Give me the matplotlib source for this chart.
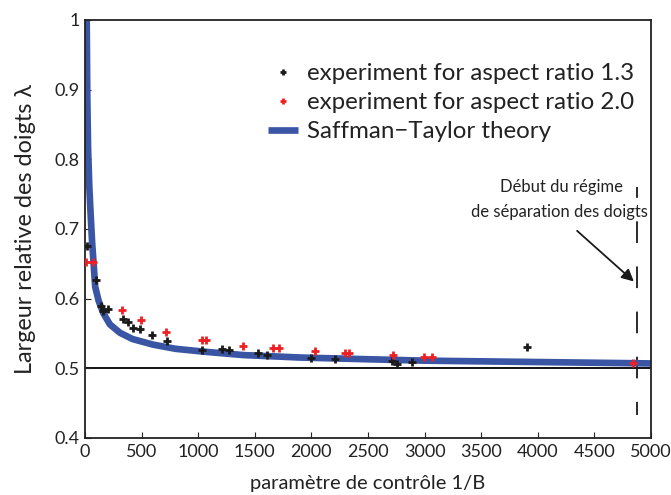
import numpy as np
import matplotlib
matplotlib.use("Agg")
import matplotlib.pyplot as plt

plt.rcParams['font.family'] = ['Lato', 'DejaVu Sans']

# theory curve
theory_x = [15, 20, 27, 38, 50, 63, 77, 90, 120, 162, 220, 309, 420, 601, 800,
            1042, 1400, 1899, 2500, 3000, 3500, 4000, 4500, 5000]
theory_y = [1.0, 0.89, 0.816, 0.76, 0.72, 0.68, 0.648, 0.617, 0.597, 0.579,
            0.563, 0.551, 0.542, 0.534, 0.528, 0.524, 0.519, 0.5155, 0.513,
            0.511, 0.510, 0.509, 0.508, 0.507]

# aspect ratio 1.3 (black)
ar13_x = [20, 95, 139, 162, 206, 333, 377, 422, 486, 589, 722, 1036, 1208,
          1272, 1526, 1610, 1994, 2208, 2715, 2759, 2886, 3902]
ar13_y = [0.676, 0.627, 0.590, 0.582, 0.585, 0.571, 0.566, 0.558, 0.557,
          0.548, 0.539, 0.526, 0.528, 0.527, 0.522, 0.519, 0.515, 0.513,
          0.511, 0.506, 0.509, 0.530]

# aspect ratio 2.0 (red)
ar20_x = [5, 73, 324, 495, 713, 1036, 1069, 1398, 1658, 1714, 2032, 2297,
          2332, 2718, 2995, 3063, 4844]
ar20_y = [0.653, 0.653, 0.583, 0.570, 0.552, 0.541, 0.541, 0.532, 0.529,
          0.529, 0.525, 0.522, 0.522, 0.519, 0.516, 0.516, 0.508]

x_ticks = [0, 500, 1000, 1500, 2000, 2500, 3000, 3500, 4000, 4500, 5000]
y_ticks = [0.4, 0.5, 0.6, 0.7, 0.8, 0.9, 1.0]
y_ticklabels = ['0.4', '0.5', '0.6', '0.7', '0.8', '0.9', '1']

sep_x = 4880

fig = plt.figure(figsize=(6.71, 4.95), dpi=100)
ax = fig.add_axes([0.1267, 0.1152, 0.8433, 0.8444])

ax.axhline(0.5, color='black', lw=1.3, zorder=1)
ax.plot(theory_x, theory_y, color='#3a55a4', lw=4.8, solid_capstyle='butt',
        label='Saffman\u2212Taylor theory', zorder=2)
ax.plot(ar13_x, ar13_y, '+', color='#1a1a1a', ms=6, mew=2,
        label='experiment for aspect ratio 1.3', zorder=3)
ax.plot(ar20_x, ar20_y, '+', color='#ee2024', ms=6, mew=2,
        label='experiment for aspect ratio 2.0', zorder=3)

# dashed marker of the finger-splitting onset, drawn from the top down
ax.plot([sep_x, sep_x], [0.76, 0.433], color='#1a1a1a', lw=1.3,
        linestyle=(6, (12, 13)), zorder=1)

ax.annotate('', xy=(4868, 0.622), xytext=(4330, 0.700),
            arrowprops=dict(arrowstyle='-|>', color='#1a1a1a', lw=1.3,
                            mutation_scale=18))
ax.text(4210, 0.760, 'Début du régime', ha='center', va='center', fontsize=12,
        color='#222222')
ax.text(4190, 0.725, 'de séparation des doigts', ha='center', va='center',
        fontsize=12, color='#222222')

ax.set_xlim(0, 5000)
ax.set_ylim(0.4, 1.0)
ax.set_xticks(x_ticks)
ax.set_yticks(y_ticks)
ax.set_yticklabels(y_ticklabels)
ax.tick_params(direction='in', labelsize=13, length=4, pad=4,
               colors='#222222', labelcolor='#222222')
for s in ax.spines.values():
    s.set_linewidth(1.3)
    s.set_color('#222222')

ax.set_xlabel('paramètre de contrôle 1/B', fontsize=14.5, color='#222222',
              labelpad=11)
ax.set_ylabel('Largeur relative des doigts \u03bb', fontsize=16.8,
              color='#222222', labelpad=13)

h, l = ax.get_legend_handles_labels()
order = [1, 2, 0]
leg = ax.legend([h[i] for i in order], [l[i] for i in order], loc='upper left',
                bbox_to_anchor=(0.323, 0.897), frameon=False, fontsize=17.4,
                handlelength=1.27, handletextpad=0.37, labelspacing=0.33,
                borderpad=0, borderaxespad=0, markerscale=0.7)
for t in leg.get_texts():
    t.set_color('#222222')

fig.savefig('out.png', dpi=100)
